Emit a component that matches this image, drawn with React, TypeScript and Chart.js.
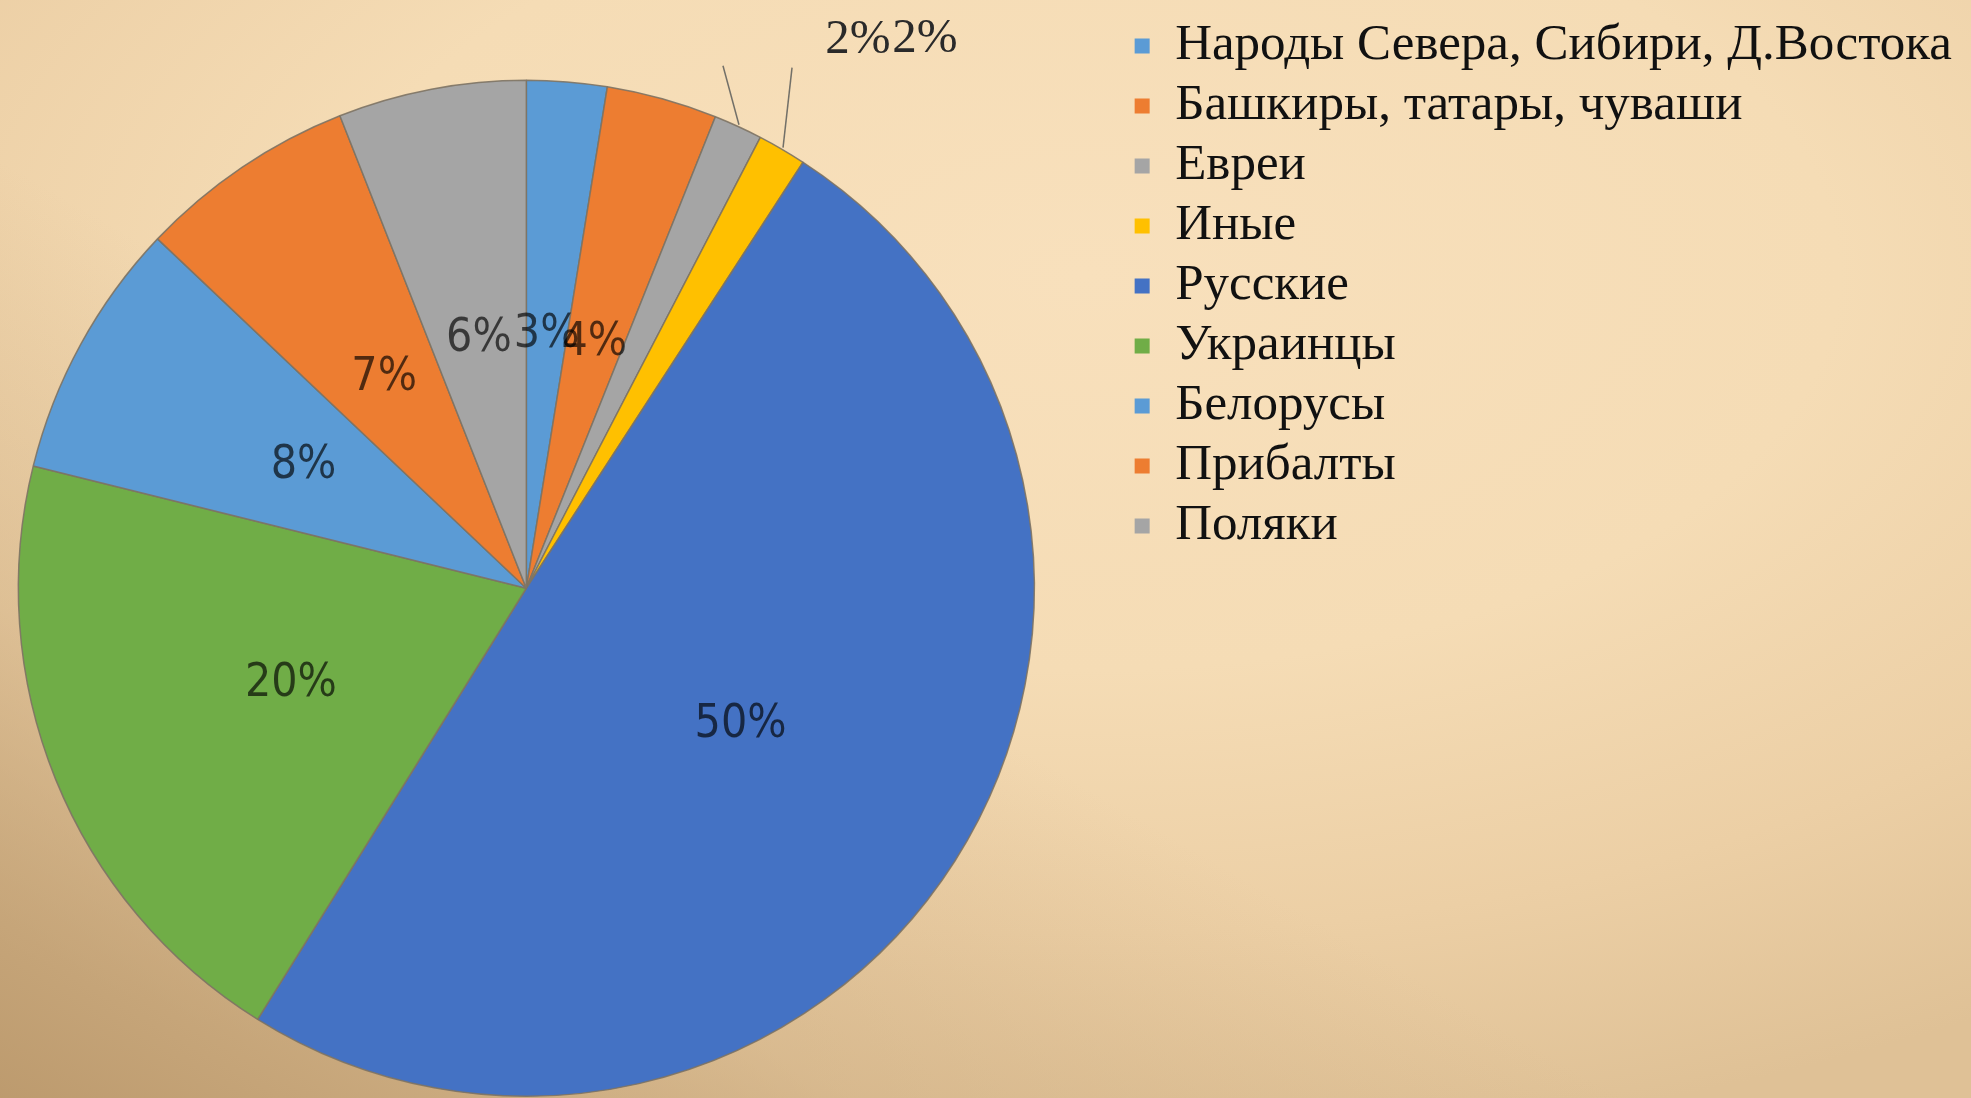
import React, { useEffect, useRef } from "react";
import { Chart, registerables } from "chart.js";

Chart.register(...registerables);

// ---------- data ----------
const categories = [
  "Народы Севера, Сибири, Д.Востока",
  "Башкиры, татары, чуваши",
  "Евреи",
  "Иные",
  "Русские",
  "Украинцы",
  "Белорусы",
  "Прибалты",
  "Поляки",
];
const shares = [2.55, 3.52, 1.55, 1.55, 49.7, 20.0, 8.2, 6.95, 5.98];
const sliceColors = [
  "#5B9BD5",
  "#ED7D31",
  "#A5A5A5",
  "#FFC000",
  "#4472C4",
  "#70AD47",
  "#5B9BD5",
  "#ED7D31",
  "#A5A5A5",
];

// ---------- layout / style constants ----------
const PAGE_W = 1971;
const PAGE_H = 1098;
const PIE_CX = 526;
const PIE_CY = 588;
const PIE_R = 508;
const PAD_TOP = 11.5;
const LEGEND_TEXT_X = 1175;
const LEG_FONT = 51;
const LEG_PAD = 9;
const BOX = 15;
const LEGEND_FONT_FAMILY = '"Liberation Serif", "Times New Roman", serif';
const INSIDE_FONT = '46px "Liberation Sans Narrow", "DejaVu Sans Condensed", "Roboto Condensed", "Liberation Sans", sans-serif';
const OUTSIDE_FONT = '49px "Liberation Serif", "Times New Roman", serif';
const OUTSIDE_THRESHOLD = 2;
// offsets (px) for small-slice labels relative to their arc anchor point
const LEADER_END_OFFSETS = [
  [-16, -59],
  [9, -80],
];
const OUTSIDE_LABEL_OFFSETS = [
  [119, -85],
  [142, -108],
];

const dataLabelsPlugin = {
  id: "sliceLabels",
  afterDatasetsDraw(chart: any) {
    const ctx = chart.ctx;
    const meta = chart.getDatasetMeta(0);
    const values: number[] = chart.data.datasets[0].data;
    const total = values.reduce((a, b) => a + b, 0);
    let k = 0;
    ctx.save();
    meta.data.forEach((arc: any, i: number) => {
      const p = arc.getProps(["x", "y", "startAngle", "endAngle", "outerRadius"], true);
      const mid = (p.startAngle + p.endAngle) / 2;
      const pctRaw = (values[i] / total) * 100;
      const text = Math.round(pctRaw) + "%";
      if (pctRaw >= OUTSIDE_THRESHOLD) {
        const r = p.outerRadius * 0.5;
        const lx = p.x + Math.cos(mid) * r;
        const ly = p.y + Math.sin(mid) * r;
        ctx.font = INSIDE_FONT;
        ctx.fillStyle = "rgba(0,0,0,0.66)";
        ctx.textAlign = "center";
        ctx.textBaseline = "middle";
        ctx.fillText(text, lx, ly);
      } else {
        const ax = p.x + Math.cos(mid) * (p.outerRadius + 2);
        const ay = p.y + Math.sin(mid) * (p.outerRadius + 2);
        const le = LEADER_END_OFFSETS[k % LEADER_END_OFFSETS.length];
        const lo = OUTSIDE_LABEL_OFFSETS[k % OUTSIDE_LABEL_OFFSETS.length];
        ctx.strokeStyle = "rgba(100,100,95,0.9)";
        ctx.lineWidth = 1.5;
        ctx.beginPath();
        ctx.moveTo(ax, ay);
        ctx.lineTo(ax + le[0], ay + le[1]);
        ctx.stroke();
        ctx.font = OUTSIDE_FONT;
        ctx.fillStyle = "#2a2a2a";
        ctx.textAlign = "center";
        ctx.textBaseline = "middle";
        ctx.fillText(text, ax + lo[0], ay + lo[1]);
        k++;
      }
    });
    ctx.restore();
  },
};

export default function App() {
  const canvasRef = useRef<HTMLCanvasElement | null>(null);

  useEffect(() => {
    const canvas = canvasRef.current;
    if (!canvas) return;

    // measure the widest legend label to place the legend column precisely
    const m = document.createElement("canvas").getContext("2d")!;
    m.font = `${LEG_FONT}px ${LEGEND_FONT_FAMILY}`;
    const textW = Math.max(...categories.map((c) => m.measureText(c).width));
    const legendW = LEG_PAD + BOX + LEG_FONT / 2 + textW + 10;
    const legendLeftPage = LEGEND_TEXT_X - LEG_PAD - BOX - LEG_FONT / 2;
    const halfW = legendLeftPage - PIE_CX;
    const offsetX = PIE_CX - halfW;
    const cw = Math.round(2 * halfW + legendW);
    const ch = Math.round(2 * PIE_CY - PAD_TOP);

    canvas.width = cw;
    canvas.height = ch;
    canvas.style.width = cw + "px";
    canvas.style.height = ch + "px";
    canvas.style.left = offsetX + "px";

    const pieOverrides: any = (Chart as any).overrides.pie;
    const baseGen = pieOverrides.plugins.legend.labels.generateLabels;

    const chart = new Chart(canvas, {
      type: "pie",
      data: {
        labels: categories,
        datasets: [
          {
            data: shares,
            backgroundColor: sliceColors,
            borderColor: "rgba(125,115,100,0.9)",
            borderWidth: 1.5,
            radius: PIE_R,
          } as any,
        ],
      },
      options: {
        responsive: false,
        animation: false,
        devicePixelRatio: 1,
        layout: { padding: { top: PAD_TOP, left: 0, right: 0, bottom: 0 } },
        plugins: {
          tooltip: { enabled: false },
          legend: {
            display: true,
            position: "right",
            align: "start",
            labels: {
              boxWidth: BOX,
              boxHeight: BOX,
              padding: LEG_PAD,
              color: "#111111",
              font: { family: LEGEND_FONT_FAMILY, size: LEG_FONT },
              generateLabels: (c: any) =>
                baseGen(c).map((l: any) => ({ ...l, lineWidth: 0 })),
            },
          },
        },
      } as any,
      plugins: [dataLabelsPlugin],
    });

    return () => chart.destroy();
  }, []);

  return (
    <div
      style={{
        position: "fixed",
        left: 0,
        top: 0,
        width: PAGE_W,
        height: PAGE_H,
        overflow: "hidden",
        backgroundColor: "#F2D8B0",
        backgroundImage:
          "linear-gradient(30deg, rgba(180,145,100,0.8) 0%, rgba(200,168,125,0.4) 22%, rgba(230,200,155,0) 42%)," +
          "radial-gradient(ellipse 85% 80% at 55% 25%, #F8E0BC 0%, #F5DCB5 45%, #ECCFA5 75%, #DFC196 100%)",
      }}
    >
      <canvas ref={canvasRef} style={{ position: "absolute", top: 0, display: "block" }} />
    </div>
  );
}
